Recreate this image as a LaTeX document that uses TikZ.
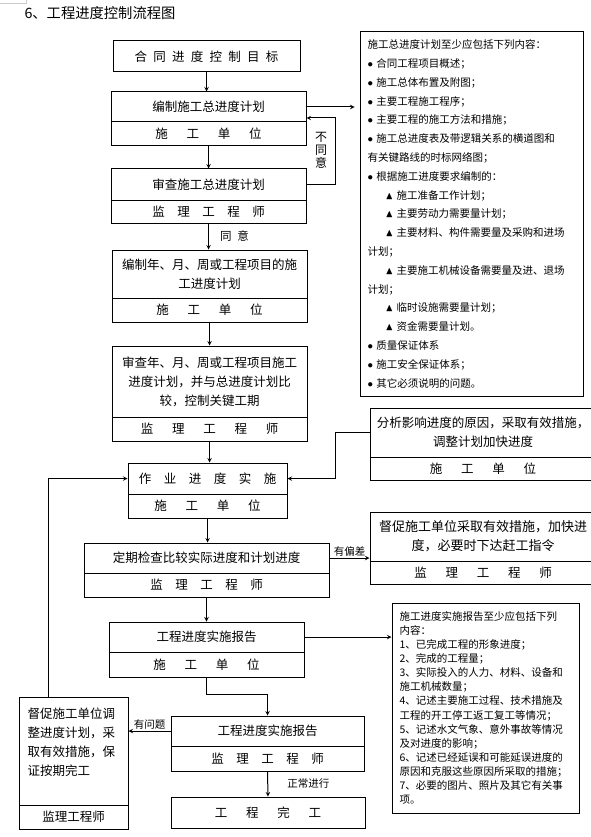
\documentclass[tikz,border=0pt]{standalone}
\usepackage{amssymb}
\usepackage{fontspec}
\setmainfont{Noto Sans CJK SC}
\newcommand{\gapl}{\hspace{1.5em}}
\newcommand{\gapm}{\hspace{1em}}
\newcommand{\gaps}{\hspace{.5em}}
\newcommand{\tri}{\hspace*{18pt}$\blacktriangle$ }
\begin{document}
\begin{tikzpicture}[x=1pt, y=-1pt, >=stealth, line width=1pt,
  box/.style={draw, inner sep=0pt, align=center, font=\fontsize{12.5}{19}\selectfont},
  note/.style={inner sep=1pt, font=\fontsize{10.5}{10.5}\selectfont}]
\useasboundingbox[fill=white] (0,0) rectangle (590,837);
\draw[gray!40, line width=.6pt] (0,3) -- (26,3) -- (26,0);
\node[anchor=west, inner sep=0pt, font=\fontsize{14.3}{14.3}\selectfont] (T) at (24,13) {6、工程进度控制流程图};

\node[box, minimum width=187, minimum height=31] (A) at (206.5,56.5) {合\gaps 同\gaps 进\gaps 度\gaps 控\gaps 制\gaps 目\gaps 标};
\node[box, minimum width=195, minimum height=30] (B1) at (208.5,107) {编制施工总进度计划};
\node[box, minimum width=195, minimum height=24] (B2) at (208.5,134) {施\gapl 工\gapl 单\gapl 位};
\node[box, minimum width=195, minimum height=31] (C1) at (208.5,184.5) {审查施工总进度计划};
\node[box, minimum width=195, minimum height=23] (C2) at (208.5,211.5) {监\gapm 理\gapm 工\gapm 程\gapm 师};
\node[box, minimum width=195, minimum height=48] (D1) at (209.5,274) {编制年、月、周或工程项目的施\\工进度计划};
\node[box, minimum width=195, minimum height=24] (D2) at (209.5,310) {施\gapl 工\gapl 单\gapl 位};
\node[box, minimum width=195, minimum height=71] (E1) at (209.5,381.5) {审查年、月、周或工程项目施工\\进度计划，并与总进度计划比\\较，控制关键工期};
\node[box, minimum width=195, minimum height=24] (E2) at (209.5,429) {监\gapl 理\gapl 工\gapl 程\gapl 师};
\node[box, minimum width=159, minimum height=31] (F1) at (207.5,478.5) {作\gapm 业\gapm 进\gapm 度\gapm 实\gapm 施};
\node[box, minimum width=159, minimum height=24] (F2) at (207.5,506) {施\gapl 工\gapl 单\gapl 位};
\node[box, minimum width=245, minimum height=30] (G1) at (206.5,558) {定期检查比较实际进度和计划进度};
\node[box, minimum width=245, minimum height=24] (G2) at (206.5,585) {监\gapm 理\gapm 工\gapm 程\gapm 师};
\node[box, minimum width=195, minimum height=30] (H1) at (206.5,637) {工程进度实施报告};
\node[box, minimum width=195, minimum height=25] (H2) at (206.5,664.5) {施\gapl 工\gapl 单\gapl 位};
\node[box, minimum width=193, minimum height=30] (I1) at (267.5,731) {工程进度实施报告};
\node[box, minimum width=193, minimum height=25] (I2) at (267.5,758.5) {监\gapm 理\gapm 工\gapm 程\gapm 师};
\node[box, minimum width=194, minimum height=31] (J) at (268,812.5) {工\gapl 程\gapl 完\gapl 工};
\node[box, minimum width=109, minimum height=108, text width=92, align=left] (K1) at (73.5,751) {督促施工单位调\\整进度计划，采\\取有效措施，保\\证按期完工\\~};
\node[box, minimum width=109, minimum height=24] (K2) at (73.5,817) {监理工程师};
\node[box, minimum width=226, minimum height=49] (M1) at (483,432.5) {分析影响进度的原因，采取有效措施，\\调整计划加快进度};
\node[box, minimum width=226, minimum height=23] (M2) at (483,468.5) {施\gapl 工\gapl 单\gapl 位};
\node[box, minimum width=226, minimum height=49, font=\fontsize{13}{19}\selectfont] (N1) at (483,536.5) {督促施工单位采取有效措施，加快进\\度，必要时下达赶工指令};
\node[box, minimum width=226, minimum height=23] (N2) at (483,572.5) {监\gapl 理\gapl 工\gapl 程\gapl 师};

\node[draw, minimum width=223, minimum height=364, text width=208, inner xsep=7.5pt, align=left, font=\fontsize{10.5}{18.8}\selectfont] (L) at (471.5,214) {施工总进度计划至少应包括下列内容：\\
$\bullet$ 合同工程项目概述；\\
$\bullet$ 施工总体布置及附图；\\
$\bullet$ 主要工程施工程序；\\
$\bullet$ 主要工程的施工方法和措施；\\
$\bullet$ 施工总进度表及带逻辑关系的横道图和\\
有关键路线的时标网络图；\\
$\bullet$ 根据施工进度要求编制的：\\
\tri 施工准备工作计划；\\
\tri 主要劳动力需要量计划；\\
\tri 主要材料、构件需要量及采购和进场\\
计划；\\
\tri 主要施工机械设备需要量及进、退场\\
计划；\\
\tri 临时设施需要量计划；\\
\tri 资金需要量计划。\\
$\bullet$ 质量保证体系\\
$\bullet$ 施工安全保证体系；\\
$\bullet$ 其它必须说明的问题。};
\node[draw, minimum width=187, minimum height=210, text width=172, inner xsep=7.5pt, align=left, font=\fontsize{10.5}{14.1}\selectfont] (P) at (485.5,708) {施工进度实施报告至少应包括下列\\
内容：\\
1、已完成工程的形象进度；\\
2、完成的工程量；\\
3、实际投入的人力、材料、设备和\\
施工机械数量；\\
4、记述主要施工过程、技术措施及\\
工程的开工停工返工复工等情况；\\
5、记述水文气象、意外事故等情况\\
及对进度的影响；\\
6、记述已经延误和可能延误进度的\\
原因和克服这些原因所采取的措施；\\
7、必要的图片、照片及其它有关事\\
项。};

\coordinate (R) at (335,118);
\coordinate (U) at (48,478.5);

\draw[->](A.south)--(A.south |- B1.north);
\draw[->](B2.south)--(B2.south |- C1.north);
\draw[->](C2.south)--node[right=10pt, note, font=\fontsize{11.5}{11.5}\selectfont]{同\gaps 意}(C2.south |- D1.north);
\draw[->](D2.south)--(D2.south |- E1.north);
\draw[->](E2.south)--(E2.south |- F1.north);
\draw[->](F2.south)--(F2.south |- G1.north);
\draw[->](G2.south)--(G2.south |- H1.north);
\draw[->](H2.south)--++(0,17)-|(I1.north);
\draw[->](I2.south)--node[right=18pt, note]{正常进行}(J.north);
\draw[->](I1.west)--node[above, note]{有问题}(I1.west -| K1.east);
\draw[->](K1.north -| U)--(U)--(F1.west);
\draw[->](M1.west)--++(-34,0)|-(F1.east);
\draw[->](G1.east)--node[above, note]{有偏差}(G1.east -| N1.west);
\draw[->, shorten >=5pt](B1.east)--(B1.east -| L.west);
\draw[->](H1.east)--(H1.east -| P.west);
\draw[->](C1.east)-|(R)--(R -| B1.east);
\node[note, align=center, font=\fontsize{12}{13}\selectfont] (Q) at (321,150) {不\\同\\意};

\end{tikzpicture}
\end{document}
